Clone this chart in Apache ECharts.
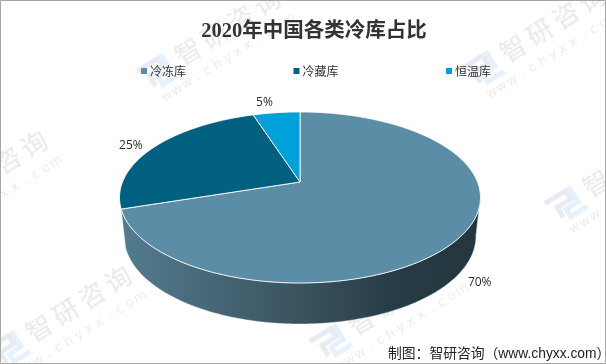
<!DOCTYPE html>
<html><head><meta charset="utf-8">
<style>html,body{margin:0;padding:0;background:#fff}#c{width:606px;height:364px}</style>
<script src="https://cdn.jsdelivr.net/npm/echarts@6/dist/echarts.min.js"></script>
</head><body><div id="c"></div>
<script>
const titleText = '2020年中国各类冷库占比';
const categories = ['冷冻库', '冷藏库', '恒温库'];
const shares = [70, 25, 5];
const colors = ['#5B8DA6', '#01607F', '#00A0D8'];
const sourceText = '制图：智研咨询（www.chyxx.com）';

// Perspective projection of the pie disc
const CX = 300, CY = 182, RX = 177.5, RY = 82.7, P = 0.181;
const total = shares.reduce((a, b) => a + b, 0);
function project(deg, k) {
  const t = deg * Math.PI / 180, s = Math.sin(t), c = Math.cos(t);
  const w = 1 + P * c;
  return [CX + (k || 1) * RX * s / w, CY - (k || 1) * RY * c / w];
}
function lower(deg) {
  const p = project(deg);
  const front = Math.max(0, -Math.cos(deg * Math.PI / 180));
  return [CX + (p[0] - CX) * 0.975, p[1] + 38 + 3 * front];
}
function arc(a, b, fn) {
  const pts = [], n = Math.max(2, Math.ceil(Math.abs(b - a)));
  for (let i = 0; i <= n; i++) pts.push((fn || project)(a + (b - a) * i / n));
  return pts;
}
const wallFill = new echarts.graphic.LinearGradient(120, 0, 480, 0, [
  { offset: 0, color: '#537C90' },
  { offset: 0.5, color: '#3A535E' },
  { offset: 0.78, color: '#263B44' },
  { offset: 1, color: '#24363E' }
], true);
const labelOffset = [[19, 46], [-23, -2], [-12, -10]];

function renderSlice(idx) {
  return function (params, api) {
    const before = shares.slice(0, idx).reduce((a, b) => a + b, 0);
    const start = before / total * 360;
    const end = (before + api.value(0)) / total * 360;
    const color = api.visual('color');
    const children = [];
    if (idx === 0) {
      const wallEnd = Math.min(end, 252);
      const top = arc(100, wallEnd), bottom = arc(wallEnd, 100, lower);
      children.push({
        type: 'polygon', shape: { points: top.concat(bottom) },
        style: { fill: wallFill, stroke: 'rgba(225,232,236,0.75)', lineWidth: 0.6 }
      });
    }
    children.push({
      type: 'polygon',
      shape: { points: [[CX, CY]].concat(arc(start, end)) },
      style: { fill: color, stroke: 'rgba(255,255,255,0.85)', lineWidth: 1 }
    });
    const mid = (start + end) / 2, lp = project(mid), off = labelOffset[idx];
    children.push({
      type: 'text', z2: 20,
      style: {
        x: lp[0] + off[0], y: lp[1] + off[1], text: api.value(0) + '%',
        fill: '#2b2b2b', font: '500 12px "Open Sans","Noto Sans",sans-serif',
        align: 'center', verticalAlign: 'middle'
      }
    });
    return { type: 'group', children };
  };
}

// Watermark tiles
const wmAnchors = [[157, 73], [482, 70], [-76, 215], [240, 208], [565, 205], [8, 350], [330, 343]];
const site = 'www.chyxx.com';
function watermark(a) {
  const kids = [];
  const ink = 'rgba(110,110,110,0.13)';
  '智研咨询'.split('').forEach((ch, i) => kids.push({
    type: 'text', x: 38 + i * 31, y: -2,
    style: { text: ch, font: '500 26px "Noto Sans CJK SC"', fill: ink, align: 'center', verticalAlign: 'middle' }
  }));
  site.split('').forEach((ch, i) => kids.push({
    type: 'text', x: -4 + i * 12, y: 25,
    style: { text: ch, font: '13px "DejaVu Sans"', fill: ink, align: 'center', verticalAlign: 'middle' }
  }));
  kids.push(
    { type: 'polyline', shape: { points: [[-16, -12], [8, -12], [8, -2], [-8, -2], [-8, 10]] }, style: { fill: 'none', stroke: 'rgba(90,110,170,0.14)', lineWidth: 5 } },
    { type: 'polyline', shape: { points: [[13, -14], [13, 4], [-1, 4], [-1, 13], [18, 13]] }, style: { fill: 'none', stroke: 'rgba(70,160,225,0.14)', lineWidth: 5 } }
  );
  return { type: 'group', x: a[0], y: a[1], rotation: 32 * Math.PI / 180, silent: true, z: 50, children: kids };
}

const chart = echarts.init(document.getElementById('c'), null, { renderer: 'canvas' });
chart.setOption({
  animation: false,
  backgroundColor: '#fff',
  title: {
    text: titleText, left: 309, top: 16, textAlign: 'center',
    textStyle: { fontFamily: '"Liberation Serif","Noto Sans CJK SC"', fontSize: 20.5, fontWeight: 'bold', color: '#333' }
  },
  legend: {
    data: categories, left: 136, top: 60, icon: 'rect', itemWidth: 6, itemHeight: 6, itemGap: 107.5,
    textStyle: { fontFamily: '"Noto Sans CJK SC"', fontSize: 12, color: '#333', padding: [0, 0, 0, -2] }
  },
  series: categories.map((name, i) => ({
    type: 'custom', name, coordinateSystem: 'none', silent: true,
    itemStyle: { color: colors[i] },
    data: [[shares[i]]],
    encode: { value: 0 },
    renderItem: renderSlice(i)
  })),
  graphic: [
    ...wmAnchors.map(watermark),
    { type: 'text', left: 388, bottom: 3, z: 60, style: { text: sourceText, font: '13.8px "Liberation Sans","Noto Sans CJK SC"', fill: '#222' } },
    { type: 'rect', x: 0, y: 0, z: 70, silent: true, shape: { x: 0.5, y: 0.5, width: 605, height: 363 }, style: { fill: 'none', stroke: '#A6A6A6', lineWidth: 1 } }
  ]
});
</script></body></html>
